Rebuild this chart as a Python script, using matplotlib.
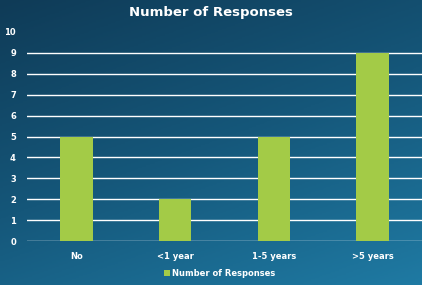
import numpy as np
import matplotlib
matplotlib.use("Agg")
import matplotlib.pyplot as plt
from matplotlib.colors import LinearSegmentedColormap

categories = ["No", "<1 year", "1-5 years", ">5 years"]
responses = [5, 2, 5, 9]
series_name = "Number of Responses"

fig = plt.figure(figsize=(4.22, 2.85), dpi=100)

# gradient background, dark navy top-left to lighter blue bottom-right
bg = fig.add_axes([0, 0, 1, 1], zorder=0)
yy, xx = np.mgrid[0:1:200j, 0:1:300j]
grad = 0.65 * yy + 0.35 * xx
cmap = LinearSegmentedColormap.from_list("bg", ["#0f3b57", "#15577a", "#1f7aa3"])
bg.imshow(grad, cmap=cmap, aspect="auto", extent=[0, 1, 0, 1], origin="upper")
bg.axis("off")

ax = fig.add_axes([0.064, 0.154, 0.936, 0.734], zorder=1)
ax.patch.set_alpha(0)
x = np.arange(len(categories))
ax.bar(x, responses, width=0.33, color="#a3cb47", label=series_name, zorder=3)

ax.set_xlim(-0.5, 3.5)
ax.set_ylim(0, 10)
ax.set_yticks(range(0, 11))
for v in range(0, 10):
    ax.axhline(v, color="white", lw=1.0, zorder=2)
ax.set_xticks(x)
ax.set_xticklabels(categories)
ax.tick_params(colors="white", labelsize=6, length=0, pad=8)
for lab in ax.get_xticklabels() + ax.get_yticklabels():
    lab.set_fontweight("bold")
for s in ax.spines.values():
    s.set_visible(False)

fig.text(0.5, 0.955, "Number of Responses", color="white", fontsize=9.5,
         fontweight="bold", ha="center", va="center")
handles, labels = ax.get_legend_handles_labels()
fig.legend(handles, labels, loc="center", bbox_to_anchor=(0.52, 0.04), frameon=False,
           labelcolor="white", handlelength=0.8, handleheight=0.8,
           handletextpad=0.2, prop={"weight": "bold", "size": 6})

fig.savefig("out.png", dpi=100)
